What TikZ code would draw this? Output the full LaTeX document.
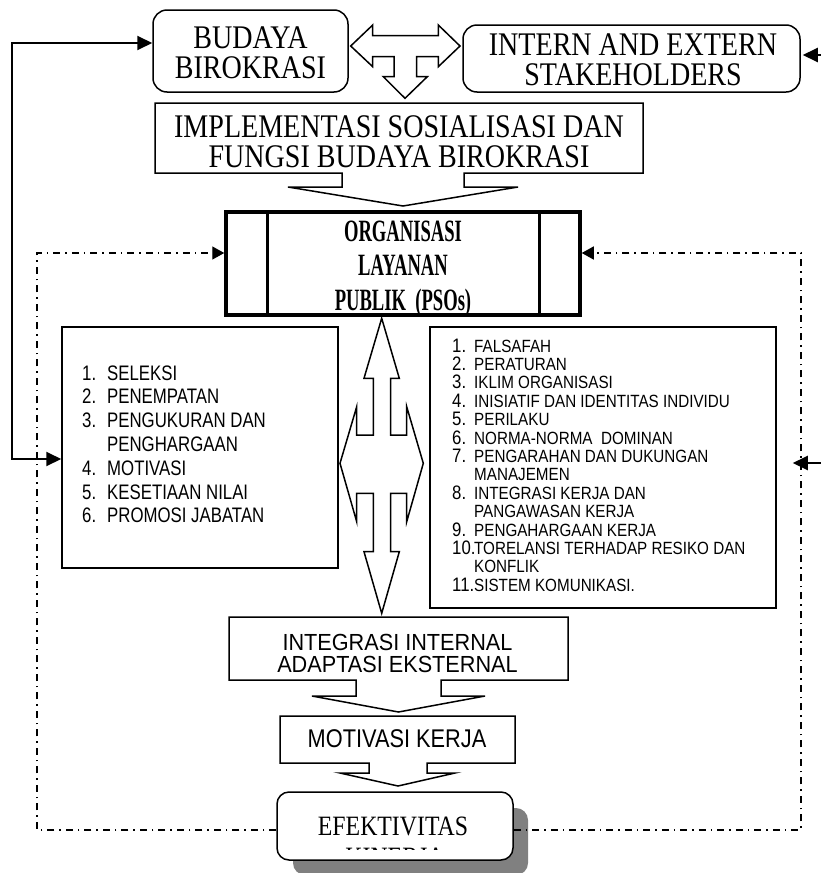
\documentclass[tikz,border=0pt]{standalone}
\usepackage{fontspec}
\setmainfont{Liberation Serif}
\newfontfamily\fTop[FakeStretch=0.85]{Liberation Serif}
\newfontfamily\fPso[FakeStretch=0.6]{Liberation Serif}
\newfontfamily\fLeft[FakeStretch=0.8]{Liberation Sans}
\newfontfamily\fRight[FakeStretch=0.86]{Liberation Sans}
\newfontfamily\fInt[FakeStretch=0.93]{Liberation Sans}
\newfontfamily\fMot[FakeStretch=0.85]{Liberation Sans}
\usetikzlibrary{arrows.meta}
\definecolor{shad}{HTML}{808080}
\begin{document}
\begin{tikzpicture}[x=1pt,y=-1pt,
  box/.style={draw, line width=1.5pt, fill=white, inner sep=0pt},
  rbox/.style={box, rounded corners=14pt},
  arr/.style={draw, line width=1.5pt, fill=white, line join=miter},
  fb/.style={line width=2pt, -{Triangle[length=15pt,width=14pt]}},
  dd/.style={line width=1.4pt, dash pattern=on 7pt off 5pt on 1.5pt off 5pt},
  ddtip/.style={-{Triangle[length=12pt,width=13pt]}},
  txt/.style={inner sep=0pt, anchor=base},
  topfont/.style={font=\fTop\fontsize{33}{28}\selectfont}
]
\useasboundingbox (0,0) rectangle (821,873);

% ---------- top boxes ----------
\node[rbox, minimum width=195pt, minimum height=82pt] (bud) at (250.5,51) {};
\node[txt, topfont] (budt) at (250.5,48) {\begin{tabular}[t]{@{}c@{}}BUDAYA\\BIROKRASI\end{tabular}};

\node[rbox, minimum width=337pt, minimum height=67pt] (stk) at (631.5,58.5) {};
\node[txt, topfont] (stkt) at (633,55.5) {\begin{tabular}[t]{@{}c@{}}INTERN AND EXTERN\\STAKEHOLDERS\end{tabular}};

% T-shaped three-way arrow
\draw[arr] (350.7,46) -- (372.7,25) -- (372.7,35.7) -- (438.3,35.7) -- (438.3,25) -- (460,46)
  -- (438.3,66.7) -- (438.3,56.7) -- (416.7,56.7) -- (416.7,76.7) -- (427.3,76.7) -- (405,98.3)
  -- (383.3,76.7) -- (394,76.7) -- (394,56.7) -- (372.7,56.7) -- (372.7,66.7) -- cycle;

% implementasi callout
\draw[arr] (155,103) -- (643,103) -- (643,173) -- (464,173) -- (464,187) -- (518,187) -- (403,206)
  -- (288,187) -- (342,187) -- (342,173) -- (155,173) -- cycle;
\node[txt, topfont] (impt) at (399,137.5) {\begin{tabular}[t]{@{}c@{}}IMPLEMENTASI SOSIALISASI DAN\\FUNGSI BUDAYA BIROKRASI\end{tabular}};

% ---------- PSO box ----------
\node[box, line width=3.5pt, minimum width=354pt, minimum height=103pt] (pso) at (403,263.5) {};
\draw[line width=3pt] ([xshift=43pt]pso.north west) -- ([xshift=43pt]pso.south west);
\draw[line width=3pt] ([xshift=-42pt]pso.north east) -- ([xshift=-42pt]pso.south east);
\node[txt, font=\fPso\bfseries\fontsize{31}{34.5}\selectfont] (psot) at (403,241)
  {\begin{tabular}[t]{@{}c@{}}ORGANISASI\\LAYANAN\\PUBLIK\ \ (PSOs)\end{tabular}};

% ---------- lists ----------
\node[box, minimum width=276pt, minimum height=241pt] (llist) at (200,447.5) {};
\foreach \n/\t [count=\i from 0] in {1./SELEKSI, 2./PENEMPATAN, 3./PENGUKURAN DAN, /PENGHARGAAN,
   4./MOTIVASI, 5./KESETIAAN NILAI, 6./PROMOSI JABATAN}
  \node[txt, anchor=base west, font=\fLeft\fontsize{21}{24}\selectfont] (l\i) at (82,{380+23.8*\i})
    {\makebox[25pt][l]{\n}\t};

\node[box, minimum width=346pt, minimum height=281pt] (rlist) at (603,467.5) {};
\foreach \n/\t [count=\i from 0] in {1./FALSAFAH, 2./PERATURAN, 3./IKLIM ORGANISASI,
   4./INISIATIF DAN IDENTITAS INDIVIDU, 5./PERILAKU, 6./NORMA-NORMA\ \ DOMINAN,
   7./PENGARAHAN DAN DUKUNGAN, /MANAJEMEN, 8./INTEGRASI KERJA DAN, /PANGAWASAN KERJA,
   9./PENGAHARGAAN KERJA, 10./TORELANSI TERHADAP RESIKO DAN, /KONFLIK, 11./SISTEM KOMUNIKASI.}
  \node[txt, anchor=base west, font=\fRight\fontsize{17.7}{18.4}\selectfont] (r\i) at (452,{352+18.4*\i})
    {\makebox[22pt][l]{\fontsize{19.5}{19.5}\selectfont\n}\t};

% central four-way vertical arrow
\draw[arr] (381.7,318.3) -- (399.3,378.3) -- (390.7,378.3) -- (390.7,435) -- (406.7,435) -- (406.7,406.7)
  -- (423.3,463.3) -- (406.7,521.7) -- (406.7,493.3) -- (390.7,493.3) -- (390.7,551.7) -- (399.3,551.7)
  -- (381.7,613.3) -- (364,551.7) -- (373.3,551.7) -- (373.3,493.3) -- (356.7,493.3) -- (356.7,521.7)
  -- (340,463.3) -- (356.7,406.7) -- (356.7,435) -- (373.3,435) -- (373.3,378.3) -- (364,378.3) -- cycle;

% ---------- bottom chain ----------
\draw[arr] (229,617) -- (568,617) -- (568,680) -- (441,680) -- (441,696) -- (485,696) -- (398.5,712)
  -- (312,696) -- (356,696) -- (356,680) -- (229,680) -- cycle;
\node[txt, font=\fInt\fontsize{23.3}{21}\selectfont] (intt) at (397.5,650)
  {\begin{tabular}[t]{@{}c@{}}INTEGRASI INTERNAL\\ADAPTASI EKSTERNAL\end{tabular}};

\draw[arr] (280,716) -- (515,716) -- (515,763) -- (427,763) -- (427,773) -- (455,773) -- (398,786)
  -- (340,773) -- (369,773) -- (369,763) -- (280,763) -- cycle;
\node[txt, font=\fMot\fontsize{25.6}{28}\selectfont] (mott) at (397,747) {MOTIVASI KERJA};

\fill[shad, rounded corners=12pt] (293,808) rectangle (528,875);
\node[rbox, rounded corners=12pt, minimum width=236pt, minimum height=68pt] (efek) at (395,826) {};
\node[txt, font=\fTop\fontsize{28}{28}\selectfont] (efekt) at (393,835.5) {EFEKTIVITAS};
\begin{scope}
  \clip (320,847.8) rectangle (470,849.6);
  \node[txt, font=\fTop\fontsize{28}{28}\selectfont] (kint) at (395,866.5) {KINERJA};
\end{scope}

% ---------- feedback connectors ----------
\coordinate (sl1) at (12,43);
\coordinate (sl2) at (12,459);
\draw[line width=2pt, {Triangle[length=15pt,width=14pt]}-{Triangle[length=15pt,width=14pt]}]
  (bud.west |- sl1) -- (sl1) -- (sl2) -- (llist.west |- sl2);

\coordinate (sr1) at (824,55);
\draw[fb, shorten >=2pt] (sr1) -- (stk.east |- sr1);
\coordinate (sr2) at (824,463);
\draw[fb, shorten >=16pt] (sr2) -- (rlist.east |- sr2);

\coordinate (dlb) at (37,830);
\coordinate (dlt) at (37,253);
\draw[dd, ddtip] (efek.west |- dlb) -- (dlb) -- (dlt) -- (pso.west |- dlt);
\coordinate (drb) at (801,830);
\coordinate (drt) at (801,253);
\draw[dd, ddtip] (efek.east |- drb) -- (drb) -- (drt) -- (pso.east |- drt);
\end{tikzpicture}
\end{document}
